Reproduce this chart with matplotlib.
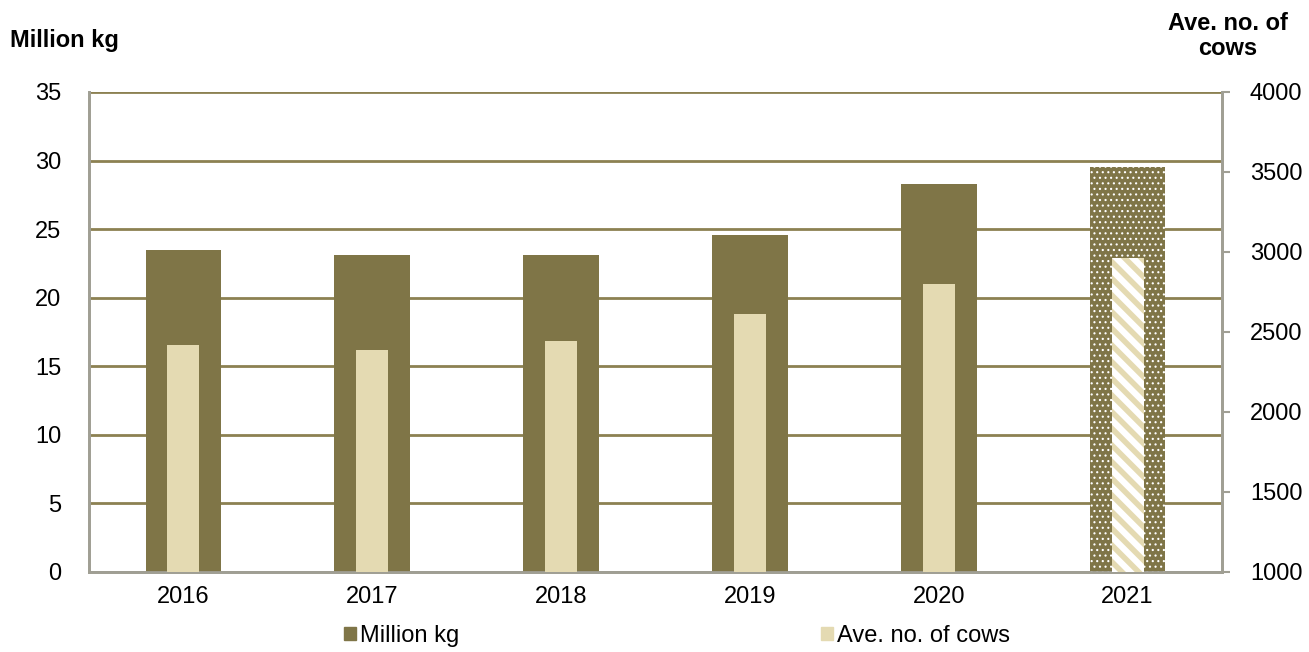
import matplotlib.pyplot as plt
import numpy as np

plt.rcParams['font.family'] = ['Liberation Sans', 'DejaVu Sans']
plt.rcParams['font.size'] = 17

# data
years = ['2016', '2017', '2018', '2019', '2020', '2021']
million_kg = [23.5, 23.1, 23.1, 24.6, 28.3, 29.5]
ave_cows = [2420, 2390, 2445, 2610, 2800, 2960]

dark = '#7f7547'
light = '#e4dab2'
grid_col = '#8c8152'
spine_col = '#a09f94'

fig = plt.figure(figsize=(13.09, 6.52), dpi=100)
ax = fig.add_axes([89 / 1309, 1 - 572 / 652, (1222 - 89) / 1309, (572 - 92) / 652])
ax2 = ax.twinx()

x = np.arange(len(years))

# outer bars (left axis), last year is an estimate -> dotted
bars = ax.bar(x, million_kg, width=0.40, color=dark, zorder=3)
b = bars[-1]
b.set_hatch('...')
b.set_edgecolor('white')
b.set_linewidth(0)

# inner bars (right axis)
with plt.rc_context({'hatch.linewidth': 4}):
    inner = ax2.bar(x, ave_cows, width=0.17, bottom=0, color=light, zorder=3)
    ib = inner[-1]
    ib.set_facecolor('white')
    ib.set_edgecolor(light)
    ib.set_hatch('\\\\')
    ib.set_linewidth(0)
    if hasattr(ib, 'set_hatch_linewidth'):
        ib.set_hatch_linewidth(4)
if hasattr(b, 'set_hatch_linewidth'):
    b.set_hatch_linewidth(0.8)

ax.set_xlim(-0.5, len(years) - 0.5)
ax.set_ylim(0, 35)
ax.set_yticks(range(0, 36, 5))
ax2.set_ylim(1000, 4000)
ax2.set_yticks(range(1000, 4001, 500))

ax.yaxis.grid(True, color=grid_col, linewidth=2)
ax.set_axisbelow(True)
ax.set_xticks(x)
ax.set_xticklabels(years)
ax.tick_params(axis='x', length=0, pad=10)
ax.tick_params(axis='y', length=0, pad=20)
ax2.tick_params(axis='y', length=6, color=spine_col, width=1.5, pad=14)

for a in (ax, ax2):
    for s in a.spines.values():
        s.set_color(spine_col)
        s.set_linewidth(2)
ax.spines['top'].set_visible(False)
ax2.spines['top'].set_visible(False)

# axis titles
fig.text(10 / 1309, 1 - 40 / 652, 'Million kg', fontweight='bold', va='center', ha='left')
fig.text(1228 / 1309, 1 - 36 / 652, 'Ave. no. of\ncows', fontweight='bold', va='center',
         ha='center', linespacing=1.1)

handles = [plt.Rectangle((0, 0), 1, 1, color=dark), plt.Rectangle((0, 0), 1, 1, color=light)]
fig.legend(handles, ['Million kg', 'Ave. no. of cows'], loc='center',
           bbox_to_anchor=(677 / 1309, 1 - 636 / 652), ncol=2, frameon=False,
           handlelength=0.5, handleheight=0.5, handletextpad=0.2, columnspacing=15.3)

fig.savefig('out.png', dpi=100)
